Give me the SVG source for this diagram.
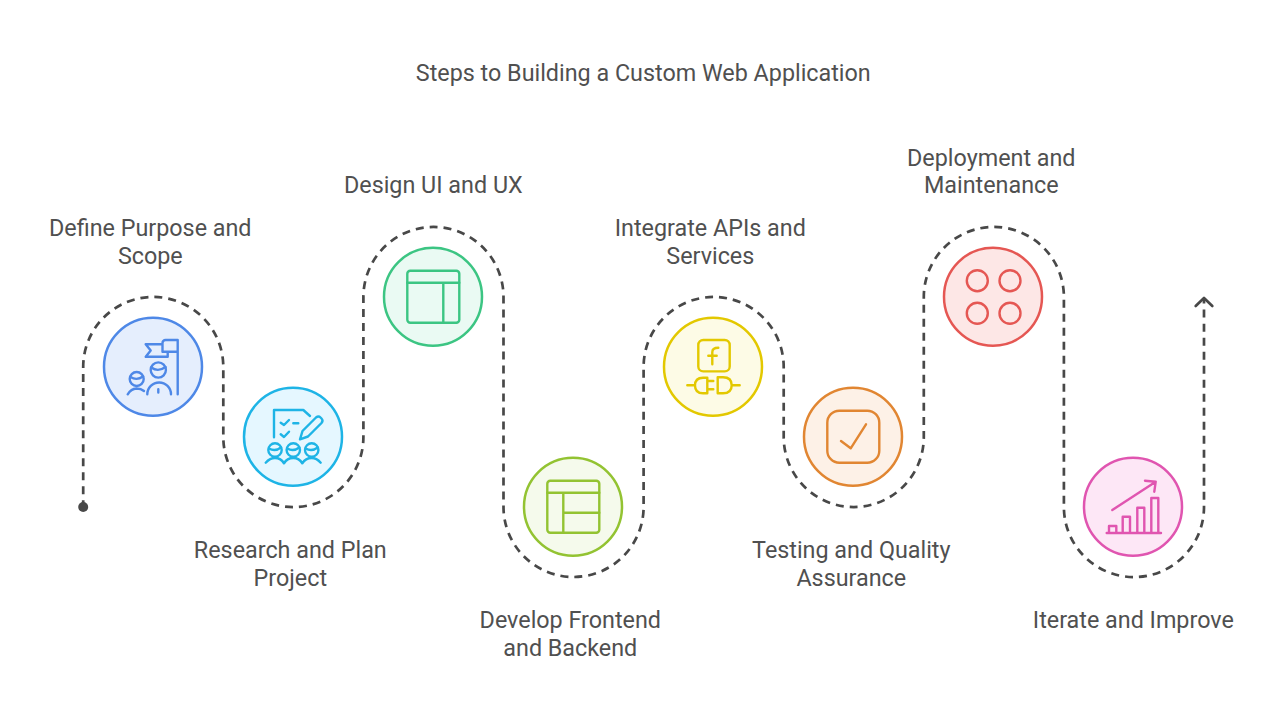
<svg xmlns="http://www.w3.org/2000/svg" width="1280" height="720" viewBox="0 0 1280 720">
<style>
text{font-family:Roboto,"Liberation Sans",sans-serif;font-size:23.33px;fill:#505050;text-anchor:middle}
.c{stroke-width:2.5}
.i{fill:none;stroke-width:2.4;stroke-linecap:round;stroke-linejoin:round}
#s1 *{stroke:#4e88e7}#s2 *{stroke:#1eb4e6}#s3 *{stroke:#3cc583}#s4 *{stroke:#93c332}#s5 *{stroke:#e3c800}#s6 *{stroke:#e18632}#s7 *{stroke:#e55753}#s8 *{stroke:#e055b0}
#s1 text,#s2 text,#s3 text,#s4 text,#s5 text,#s6 text,#s7 text,#s8 text{stroke:none}
.flow{fill:none;stroke:#484848;stroke-width:2.7;stroke-dasharray:8 6.01;stroke-dashoffset:1.2}
</style>
<defs>
<marker id="dot" markerUnits="userSpaceOnUse" markerWidth="12" markerHeight="12" refX="6" refY="6"><circle cx="6" cy="6" r="5" fill="#484848"/></marker>
<marker id="arr" markerUnits="userSpaceOnUse" markerWidth="14" markerHeight="22" refX="10" refY="11" orient="auto"><path d="M2 2.700L10 11L2 19.300" fill="none" stroke="#484848" stroke-width="2.700" stroke-linecap="round" stroke-linejoin="round"/></marker>
</defs>
<rect width="1280" height="720" fill="#fff"/>
<text id="title" x="643.300" y="81">Steps to Building a Custom Web Application</text>
<g id="connectors">
<path class="flow" marker-start="url(#dot)" marker-end="url(#arr)" d="M83.200 507V367A70 70 0 0 1 223.300 367V437A70 70 0 0 0 363.400 437V297A70 70 0 0 1 503.500 297V507A70 70 0 0 0 643.600 507V367A70 70 0 0 1 783.700 367V437A70 70 0 0 0 923.800 437V297A70 70 0 0 1 1063.900 297V507A70 70 0 0 0 1204 507V298"/>
</g>
<g id="s1">
<circle class="c" cx="153" cy="366.700" r="49" fill="#e5eefd"/>
<path class="i" d="M177.700 394.300V340H165.500a3 3 0 0 0-3 3V351.700H177.700M162.500 344.300H145.700L150.700 350.500L145.700 356.700H167.700V351.700"/>
<circle class="i" cx="158.300" cy="370" r="7.600"/><path class="i" d="M151.300 367.500Q158 372.500 165.500 367M147.300 394.300a11.800 11.800 0 0 1 23.700 0M158.300 389.300V392.500"/>
<circle class="i" cx="136.700" cy="379" r="7"/><path class="i" d="M130.500 377Q136.700 381 143 376.500M127.700 394.300Q131 389 136.500 388.500Q141 388.500 144 391"/>
<text x="150.300" y="236">Define Purpose and</text><text x="150.300" y="264">Scope</text>
</g>
<g id="s2">
<circle class="c" cx="293" cy="436.700" r="49" fill="#e5f7ff"/>
<path class="i" d="M274 437.300V410H303.300L310 416M280.700 422.700L284 425L289 420M293.300 423.300H298.300M280.700 434.300L284 437L289 431.700"/>
<path class="i" d="M300 439.300L302.500 431L316 417.500Q318.500 415.500 320.500 417.500L321.500 418.500Q323.500 420.500 321.500 423L308 436.500Z"/>
<circle class="i" cx="275" cy="450" r="6.700"/><circle class="i" cx="293.300" cy="450" r="6.700"/><circle class="i" cx="311.700" cy="450" r="6.700"/>
<path class="i" d="M269 448.500Q275 452 281 447.500M287.300 448.500Q293.300 452 299.300 447.500M305.700 448.500Q311.700 452 317.700 447.500M265.700 462.700Q270 458 275 458Q281 458 284 463.300Q287 458 293.300 458Q299.300 458 302.300 463.300Q305.500 458 311.700 458Q316.500 458 320.700 462.700"/>
<text x="290.300" y="558">Research and Plan</text><text x="290.300" y="586">Project</text>
</g>
<g id="s3">
<circle class="c" cx="433" cy="296.700" r="49" fill="#eafaf3"/>
<rect class="i" x="407.300" y="270.700" width="52" height="52" rx="3"/><path class="i" d="M407.300 282.700H459.300M443.300 282.700V322.700"/>
<text x="433.300" y="193">Design UI and UX</text>
</g>
<g id="s4">
<circle class="c" cx="573" cy="506.700" r="49" fill="#f5faec"/>
<rect class="i" x="547.300" y="480.700" width="52" height="52" rx="3"/><path class="i" d="M547.300 492.700H599.300M563.300 492.700V532.700M563.300 512.700H599.300"/>
<text x="570.300" y="628">Develop Frontend</text><text x="570.300" y="656">and Backend</text>
</g>
<g id="s5">
<circle class="c" cx="713" cy="366.700" r="49" fill="#fdfbe6"/>
<rect class="i" x="698.300" y="340" width="31.400" height="31.400" rx="5"/>
<path class="i" d="M712.300 364.300V352Q712.300 347.700 718.300 347.700M708.300 355.700H716.700"/>
<path class="i" d="M687.300 385.300H695M707.300 377.700V393.300H703Q695 393.300 695 385.500Q695 377.700 703 377.700ZM707.300 381H713.300M707.300 389.300H713.300M717.700 377.300V393.300H723Q731.700 393.300 731.700 385.300Q731.700 377.300 723 377.300ZM731.700 385.300H739.700"/>
<text x="710.300" y="236">Integrate APIs and</text><text x="710.300" y="264">Services</text>
</g>
<g id="s6">
<circle class="c" cx="853" cy="436.700" r="49" fill="#fdf1e7"/>
<rect class="i" x="827.300" y="410.700" width="52" height="52" rx="12"/><path class="i" d="M841 441L850.700 448.300L866 424.300"/>
<text x="851.300" y="558">Testing and Quality</text><text x="851.300" y="586">Assurance</text>
</g>
<g id="s7">
<circle class="c" cx="993" cy="296.700" r="49" fill="#fde7e6"/>
<circle class="i" cx="977.300" cy="280.700" r="10.500"/><circle class="i" cx="1010" cy="280.700" r="10.500"/><circle class="i" cx="977.300" cy="313.300" r="10.500"/><circle class="i" cx="1010" cy="313.300" r="10.500"/>
<text x="991.300" y="166">Deployment and</text><text x="991.300" y="193">Maintenance</text>
</g>
<g id="s8">
<circle class="c" cx="1133" cy="506.700" r="49" fill="#fde7f6"/>
<path class="i" d="M1106.700 533H1161M1109 533V526H1116.300V533M1122.700 533V516.700H1130V533M1137.300 533V507.700H1144.300V533M1151.300 533V498H1158.300V533M1112.300 510L1155.700 481.700M1145 480.700L1155.700 481.700L1154.300 491.700"/>
<text x="1133.300" y="628">Iterate and Improve</text>
</g>
</svg>
